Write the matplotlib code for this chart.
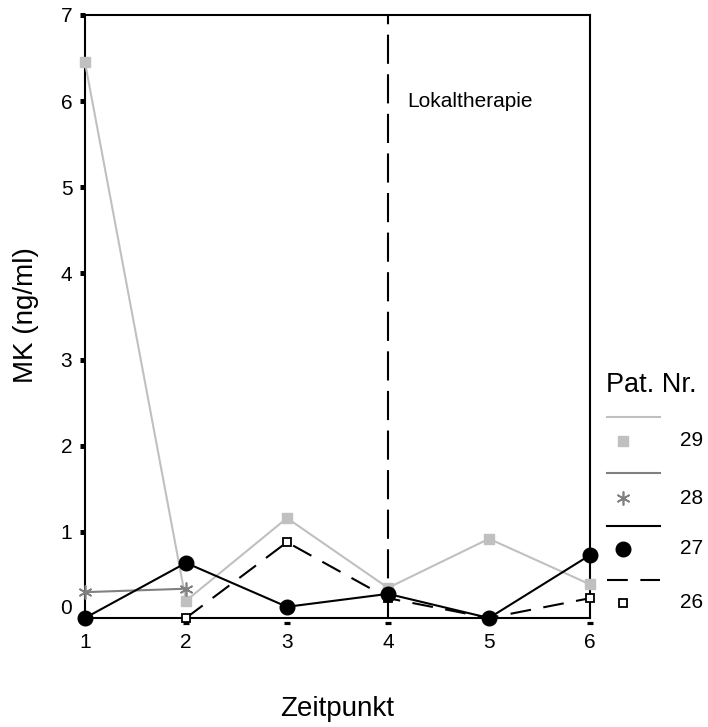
import matplotlib
matplotlib.use("Agg")
import matplotlib.pyplot as plt
import matplotlib.transforms as mtransforms
from matplotlib.lines import Line2D
import numpy as np

plt.rcParams['font.family'] = ['Liberation Sans', 'DejaVu Sans']

# Data
zeitpunkt = [1, 2, 3, 4, 5, 6]
pat29 = [6.45, 0.20, 1.16, 0.35, 0.92, 0.39]
pat28 = [0.30, 0.34, None, None, None, None]
pat27 = [0.0, 0.64, 0.13, 0.28, 0.0, 0.73]
pat26 = [None, 0.0, 0.88, 0.23, 0.0, 0.23]
patients = ["29", "28", "27", "26"]
yticks = [0, 1, 2, 3, 4, 5, 6, 7]
xticks = [1, 2, 3, 4, 5, 6]
therapy_x = 4

W, H = 708, 727
fig = plt.figure(figsize=(W / 100, H / 100), dpi=100)
ax = fig.add_axes([85 / W, 1 - 618 / H, (590 - 85) / W, (618 - 15) / H])

def arr(v):
    return np.array([np.nan if a is None else a for a in v], dtype=float)

styles = {
    "29": dict(color="#c0c0c0", ls="-", lw=1.5, marker="s", ms=6.5, mfc="#c0c0c0", mec="#c0c0c0", mew=1),
    "28": dict(color="#808080", ls="-", lw=1.5, marker=(6, 2, 0), ms=10, mfc="#808080", mec="#808080", mew=1.2),
    "27": dict(color="black", ls="-", lw=1.5, marker="o", ms=10.5, mfc="black", mec="black", mew=1),
    "26": dict(color="black", ls=(0, (10, 6)), lw=1.5, marker="s", ms=5.5, mfc="white", mec="black", mew=1.3),
}
series = {"29": pat29, "28": pat28, "27": pat27, "26": pat26}

ax.axvline(therapy_x, color="black", lw=1.5, ls=(0, (14, 5)), zorder=1)

for p in ["29", "28", "26", "27"]:
    ax.plot(zeitpunkt, arr(series[p]), clip_on=False, zorder=3, **styles[p])

ax.text(4.19, 6.0, "Lokaltherapie", fontsize=15, va="center", ha="left")

ax.set_xlim(1, 6)
ax.set_ylim(0, 7)
ax.set_xticks(xticks)
ax.set_yticks(yticks)
for s in ax.spines.values():
    s.set_linewidth(1.5)
ax.tick_params(axis="y", direction="out", length=3.6, width=3.6, labelsize=15, pad=5.5)
ax.tick_params(axis="x", length=0, labelsize=15, pad=11)

# x tick marks: small flat rectangles just below the axis line
xt_off = mtransforms.ScaledTranslation(0, -5 / 100, fig.dpi_scale_trans)
ax.plot(xticks, [0] * len(xticks), ls="none", marker="_", ms=4, mew=2.3, mec="black",
        transform=ax.get_xaxis_transform() + xt_off, clip_on=False, zorder=0)

# shift the "0" label up
offset = mtransforms.ScaledTranslation(0, 11 / 100, fig.dpi_scale_trans)
for lbl in ax.get_yticklabels():
    if lbl.get_text() == "0":
        lbl.set_transform(lbl.get_transform() + offset)

fig.text(26 / W, 1 - 315 / H, "MK (ng/ml)", rotation=90, fontsize=20, ha="center", va="center")
fig.text(337 / W, 1 - 709 / H, "Zeitpunkt", fontsize=20, ha="center", va="center")

# Legend drawn manually
fig.text(606 / W, 1 - 385 / H, "Pat. Nr.", fontsize=19.5, ha="left", va="center")
line_y = [417, 473, 526, 580]
mark_y = [441, 498, 549, 603]
for p, ly, my in zip(patients, line_y, mark_y):
    st = styles[p]
    fig.add_artist(Line2D([607 / W, 660 / W], [1 - ly / H, 1 - ly / H],
                          transform=fig.transFigure, color=st["color"], ls=st["ls"], lw=1.5))
    fig.add_artist(Line2D([623 / W], [1 - my / H], transform=fig.transFigure, ls="none",
                          marker=st["marker"], ms=st["ms"], mfc=st["mfc"], mec=st["mec"], mew=st["mew"]))
    fig.text(680 / W, 1 - my / H, p, fontsize=15, ha="left", va="center")

fig.savefig("out.png", dpi=100)
